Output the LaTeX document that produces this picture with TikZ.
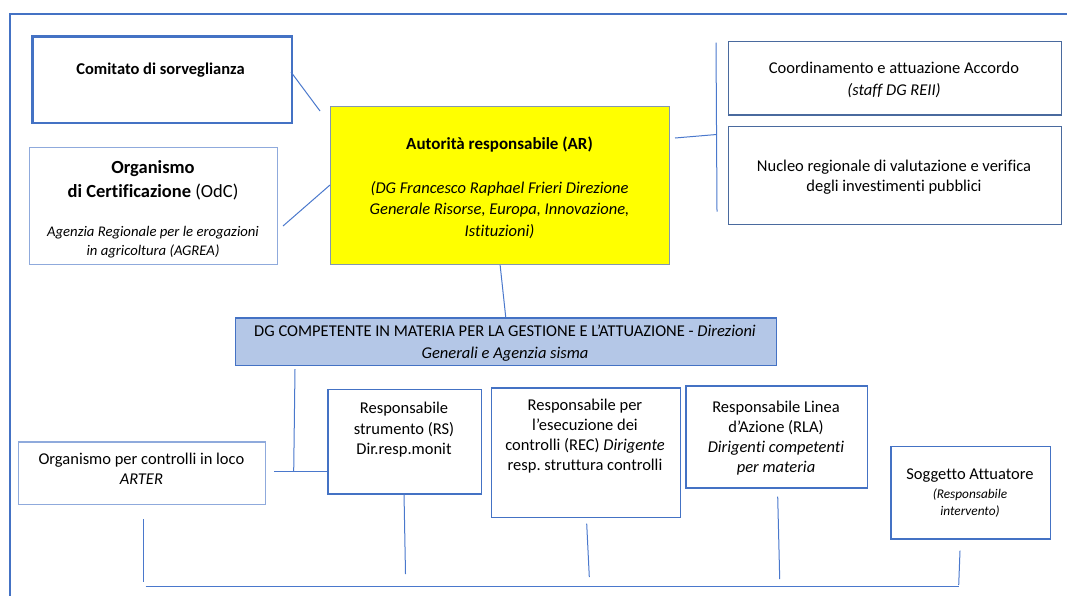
\documentclass[tikz,border=0pt]{standalone}
\usepackage{fontspec}
\setmainfont{Carlito}[Ligatures={NoCommon}]
\frenchspacing
\definecolor{boxblue}{HTML}{4472C4}
\definecolor{lightblue}{HTML}{8FAADC}
\definecolor{darkbox}{HTML}{4A6A9E}
\definecolor{arborder}{HTML}{8497B0}
\definecolor{dgfill}{HTML}{B4C7E7}
\definecolor{linkblue}{HTML}{4A78CC}
\definecolor{yel}{HTML}{FFFF00}
\tikzset{
  box/.style={draw=boxblue, line width=1.2pt, rectangle, inner sep=0pt, anchor=north west},
  txt/.style={align=center, inner sep=0pt, anchor=north, text=black,
              font=\fontsize{16.5}{20.5}\selectfont},
  conn/.style={draw=linkblue, line width=1pt},
  frameline/.style={draw=boxblue, line width=2pt}
}
\begin{document}
\begin{tikzpicture}[x=1pt,y=-1pt]
\useasboundingbox (0,0) rectangle (1067,595);
% outer frame
\draw[frameline] (10,597) -- (10,14) -- (1069,14);

% boxes
\node[box, line width=2.5pt, minimum width=259.5pt, minimum height=86.5pt] (comitato) at (31,35) {};
\node[box, draw=lightblue, minimum width=248pt, minimum height=117pt] (odc) at (29,147) {};
\node[box, draw=arborder, fill=yel, minimum width=339pt, minimum height=158pt] (ar) at (330,105.7) {};
\node[box, draw=darkbox, minimum width=333.3pt, minimum height=73.6pt] (coord) at (727.7,40.7) {};
\node[box, draw=darkbox, minimum width=332.8pt, minimum height=98.3pt] (nucleo) at (727.7,125.7) {};
\node[box, fill=dgfill, minimum width=541.3pt, minimum height=47.7pt] (dg) at (234.5,317.3) {};
\node[box, draw=lightblue, minimum width=247.3pt, minimum height=62.7pt] (org) at (17.7,441.3) {};
\node[box, minimum width=153.7pt, minimum height=104.3pt] (rs) at (327.3,389) {};
\node[box, minimum width=189.3pt, minimum height=129.7pt] (rec) at (490.7,387.3) {};
\node[box, minimum width=181.4pt, minimum height=102pt] (rla) at (685.3,385.3) {};
\node[box, minimum width=159.4pt, minimum height=92.6pt] (sog) at (890.3,445.7) {};

% texts
\node[txt, font=\fontsize{16.5}{20.5}\selectfont\bfseries] (comitatoT) at (160.5,63) {Comitato di sorveglianza};
\node[txt, font=\fontsize{18.5}{24.3}\selectfont] (odcT) at (153,160) {\textbf{Organismo}\\\textbf{di Certificazione} (OdC)};
\node[txt, font=\fontsize{14.7}{19}\selectfont\itshape] (odcS) at (153,225.6) {Agenzia Regionale per le erogazioni\\in agricoltura (AGREA)};
\node[txt, font=\fontsize{17}{21}\selectfont\bfseries] (arT) at (499.5,136.5) {Autorità responsabile (AR)};
\node[txt, font=\fontsize{16.5}{21.5}\selectfont\itshape] (arS) at (499.5,181) {(DG Francesco Raphael Frieri Direzione\\Generale Risorse, Europa, Innovazione,\\Istituzioni)};
\node[txt, font=\fontsize{16.5}{22.3}\selectfont] (coordT) at (894,61.7) {Coordinamento e attuazione Accordo\\\textit{(staff DG REII)}};
\node[txt, font=\fontsize{16.5}{19.7}\selectfont] (nucleoT) at (894,160) {Nucleo regionale di valutazione e verifica\\degli investimenti pubblici};
\node[txt, font=\fontsize{16.5}{21.7}\selectfont] (dgT) at (505,325) {DG COMPETENTE IN MATERIA PER LA GESTIONE E L’ATTUAZIONE - \textit{Direzioni}\\\textit{Generali e Agenzia sisma}};
\node[txt, font=\fontsize{16.5}{20}\selectfont] (orgT) at (141.4,453) {Organismo per controlli in loco\\\textit{ARTER}};
\node[txt, font=\fontsize{16.5}{20.8}\selectfont] (rsT) at (404,401.7) {Responsabile\\strumento (RS)\\Dir.resp.monit};
\node[txt, font=\fontsize{16.5}{20.1}\selectfont] (recT) at (585,399) {Responsabile per\\l’esecuzione dei\\controlli (REC) \textit{Dirigente}\\resp. struttura controlli};
\node[txt, font=\fontsize{16.5}{20}\selectfont] (rlaT) at (776,401.3) {Responsabile Linea\\d’Azione (RLA)\\\textit{Dirigenti competenti}\\\textit{per materia}};
\node[txt, font=\fontsize{16.5}{20}\selectfont] (sogT) at (970,469) {Soggetto Attuatore};
\node[txt, font=\fontsize{13.3}{17.4}\selectfont\itshape] (sogS) at (970,488.4) {(Responsabile\\intervento)};

% connector end points
\coordinate (c1a) at (291,72);
\coordinate (c1b) at (320,111);
\coordinate (c2a) at (283,226);
\coordinate (c2b) at (330,185);
\coordinate (c4a) at (675,138);
\coordinate (c4b) at (716.5,134.5);
\coordinate (rbusT) at (716,42.7);
\coordinate (rbusB) at (717,211.7);
\coordinate (dgd) at (295,369);
\coordinate (dgj) at (293.7,471);
\coordinate (orgR) at (274,471);
\coordinate (rsL) at (327.3,471);
\coordinate (orgD1) at (143,519);
\coordinate (orgD2) at (143,582);
\coordinate (rsD1) at (404,493.3);
\coordinate (rsD2) at (405.5,574);
\coordinate (recD1) at (586.7,523.7);
\coordinate (recD2) at (589.3,577);
\coordinate (rlaD1) at (777.7,496.7);
\coordinate (rlaD2) at (779.7,579);
\coordinate (sogD1) at (960,550.7);
\coordinate (sogD2) at (958.7,585);
\coordinate (busL) at (145.7,586.5);
\coordinate (busR) at (958.7,586.5);

% connectors
\draw[conn] (c1a) -- (c1b);
\draw[conn] (c2a) -- (c2b);
\draw[conn] (ar.south) -- (dg.north);
\draw[conn] (c4a) -- (c4b);
\draw[conn] (rbusT) -- (rbusB);
\draw[conn] (dgd) -- (dgj);
\draw[conn] (orgR) -- (rsL);
\draw[conn] (orgD1) -- (orgD2);
\draw[conn] (rsD1) -- (rsD2);
\draw[conn] (recD1) -- (recD2);
\draw[conn] (rlaD1) -- (rlaD2);
\draw[conn] (sogD1) -- (sogD2);
\draw[conn] (busL) -- (busR);
\end{tikzpicture}
\end{document}
